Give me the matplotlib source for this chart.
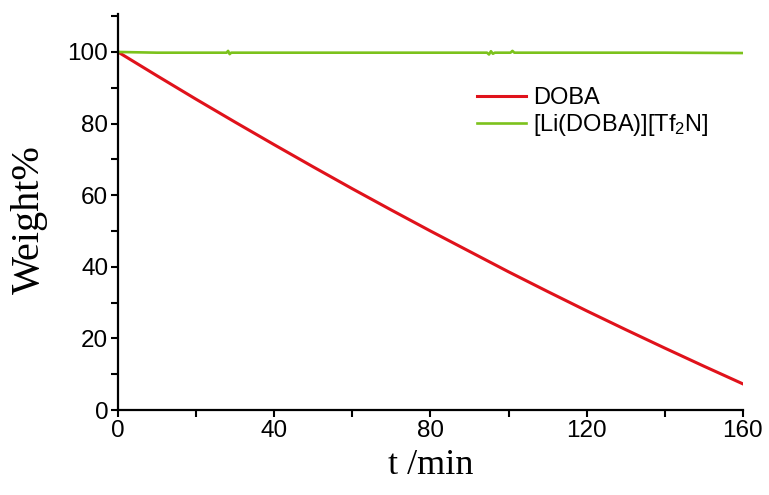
import matplotlib
matplotlib.use("Agg")
import matplotlib.pyplot as plt
from matplotlib.ticker import MultipleLocator

# valores
t_doba = [0, 10, 20, 30, 40, 50, 60, 70, 80, 90, 100, 110, 120, 130, 140, 150, 160]
w_doba = [100.0, 93.35, 86.8, 80.4, 74.1, 67.9, 61.8, 55.85, 50.0, 44.3, 38.6,
          33.1, 27.7, 22.45, 17.3, 12.25, 7.3]

t_li = [0, 5, 10, 20, 27.8, 28.2, 28.6, 29.0, 40, 60, 80, 94.5, 95.0, 95.5, 96.0,
        96.5, 100.5, 101.0, 101.5, 120, 140, 160]
w_li = [100.0, 99.9, 99.8, 99.8, 99.8, 100.3, 99.4, 99.8, 99.8, 99.8, 99.8, 99.8,
        99.3, 100.2, 99.5, 99.8, 99.8, 100.3, 99.8, 99.8, 99.8, 99.7]

labels = ['DOBA', '[Li(DOBA)][Tf$_2$N]']

plt.rcParams['font.family'] = ['Liberation Sans', 'DejaVu Sans']
plt.rcParams['mathtext.default'] = 'regular'

fig = plt.figure(figsize=(7.69, 4.95), dpi=100)
ax = fig.add_axes([0.1534, 0.1717, 0.8126, 0.8])

ax.plot(t_doba, w_doba, color='#e0121b', lw=2.2, label=labels[0])
ax.plot(t_li, w_li, color='#7cc21c', lw=1.9, label=labels[1])

ax.set_xlim(0, 160)
ax.set_ylim(0, 110.6)
ax.xaxis.set_major_locator(MultipleLocator(40))
ax.xaxis.set_minor_locator(MultipleLocator(20))
ax.yaxis.set_major_locator(MultipleLocator(20))
ax.yaxis.set_minor_locator(MultipleLocator(10))

for s in ['top', 'right']:
    ax.spines[s].set_visible(False)
for s in ['left', 'bottom']:
    ax.spines[s].set_linewidth(1.6)

ax.tick_params(which='both', direction='out', length=5, width=1.5, labelsize=17.5, pad=2)

ax.set_xlabel('t /min', family='Liberation Serif', fontsize=26, labelpad=5)
ax.set_ylabel('Weight%', family='Liberation Serif', fontsize=29)
ax.yaxis.set_label_coords(-0.112, 0.48)

ax.legend(loc='center left', bbox_to_anchor=(0.574, 0.751), frameon=False,
          fontsize=17, handlelength=2.1, handletextpad=0.3, labelspacing=0.15,
          borderpad=0, borderaxespad=0)

fig.savefig('out.png', dpi=100)
